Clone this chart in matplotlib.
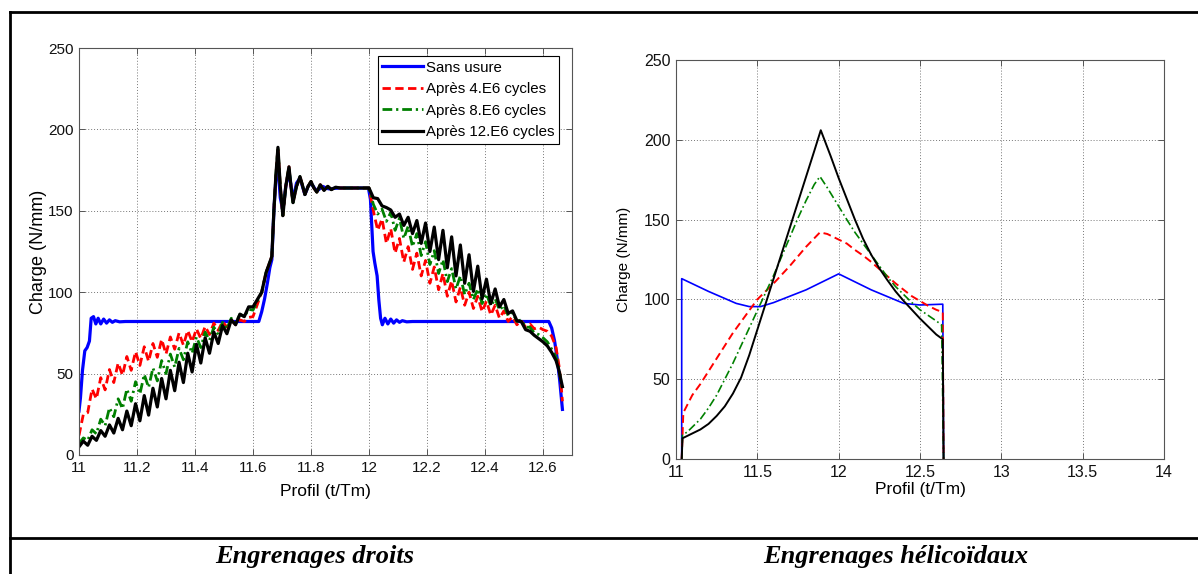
import matplotlib
matplotlib.use("Agg")
import matplotlib.pyplot as plt
from matplotlib.lines import Line2D

W, H = 1198, 574
plt.rcParams["font.family"] = ["Liberation Sans", "DejaVu Sans"]

# ---------------- spur gears (left) ----------------
L_GRID = [11.000, 11.015, 11.030, 11.045, 11.060, 11.075, 11.090, 11.105, 11.120, 11.135,
          11.150, 11.165, 11.180, 11.195, 11.210, 11.225, 11.240, 11.255, 11.270, 11.285,
          11.300, 11.315, 11.330, 11.345, 11.360, 11.375, 11.390, 11.405, 11.420, 11.435,
          11.450, 11.465, 11.480, 11.495, 11.510, 11.525, 11.540, 11.555, 11.570, 11.585, 11.600]
PEAK_X = [11.630, 11.645, 11.655, 11.665, 11.672, 11.679, 11.686, 11.694, 11.703, 11.713,
          11.724, 11.731, 11.738, 11.750, 11.762, 11.770, 11.779, 11.790, 11.800, 11.810,
          11.820, 11.832, 11.845, 11.858, 11.870, 11.885, 11.900, 11.950, 11.995]
PEAK_Y = [100, 112, 117, 122, 150, 172, 189, 165, 147, 165,
          177, 165, 155, 165, 171, 166, 160, 165, 168, 164,
          161.5, 166, 162.5, 165, 163, 164.5, 164, 164, 164]
R_GRID = [12.000, 12.015, 12.030, 12.045, 12.060, 12.075, 12.090, 12.105, 12.120, 12.135,
          12.150, 12.165, 12.180, 12.195, 12.210, 12.225, 12.240, 12.255, 12.270, 12.285,
          12.300, 12.315, 12.330, 12.345, 12.360, 12.375, 12.390, 12.405, 12.420, 12.435,
          12.450, 12.465, 12.480, 12.495, 12.510, 12.525, 12.540, 12.555, 12.570, 12.585,
          12.600, 12.615]
END_X = [12.630, 12.645, 12.655, 12.662, 12.667]

red_L = [12, 25, 26, 40.5, 34.5, 47.5, 40, 52.5, 44.5, 56.5,
         49, 60.5, 52, 63.5, 55, 66.5, 57.5, 68.5, 60, 71,
         62, 72.5, 65, 75, 67.5, 76.5, 69.5, 77.5, 71.5, 79,
         74, 81, 76.5, 82, 78.5, 83, 80, 83, 82, 84.5, 85]
red_R = [164, 150, 138, 145, 130, 139, 124, 133, 118.5, 128,
         114, 124, 110, 119.5, 105.5, 115.5, 101.5, 111.5, 97.5, 107,
         94, 103, 92, 100, 90, 97.5, 88, 94.5, 86, 92,
         84, 88.5, 82, 85, 80, 82.5, 78.5, 80.5, 77.5, 78.5,
         77, 76]
red_E = [73, 66, 55, 44, 33]

green_L = [7, 10.5, 9, 15.5, 13, 22, 18, 29, 23.5, 34.5,
           28.5, 40.5, 33, 45, 37.5, 49.5, 41.5, 53.5, 45.5, 58,
           50, 62, 54, 65.5, 58.5, 69.5, 62.5, 72.5, 66, 75.5,
           70.5, 78.5, 74, 81.5, 77.5, 84, 81, 86.5, 85, 89.5, 89]
green_R = [164, 154, 148, 151, 143.5, 149, 138, 145.5, 133, 140.5,
           128, 136, 122.5, 131, 117, 125.5, 111.5, 120, 106.5, 114.5,
           102, 110, 98.5, 105.5, 95.5, 102, 93, 99, 91.5, 96,
           89, 92, 85.5, 87.5, 82, 83, 78.5, 78.5, 75, 74,
           72, 69.5]
green_E = [65, 60, 53, 45, 40]

black_L = [5, 8.5, 6, 11.5, 9, 15, 11.5, 18.5, 13.5, 22.5,
           15.5, 27, 18, 31.5, 21, 36.5, 24.5, 41, 29.5, 47,
           34.5, 52, 39.5, 57, 44.5, 62.5, 51, 68, 56.5, 72,
           62.5, 75.5, 68.5, 79.5, 74.5, 83, 80, 86.5, 85, 91, 91]
black_R = [164, 158, 157.5, 153, 152, 150.5, 146, 148, 141, 146,
           136, 144, 130, 142.5, 125, 140, 120, 138, 115, 134,
           110, 129, 105.5, 123, 100.5, 116, 96, 108, 93, 102,
           91, 95.5, 87, 88.5, 82.5, 82, 77, 76, 73.5, 71.5,
           69.5, 67]
black_E = [63, 58, 52, 46, 42]

blue_X = [11.000, 11.005, 11.012, 11.020, 11.028, 11.036, 11.042, 11.050, 11.058, 11.066,
          11.075, 11.085, 11.095, 11.105, 11.115, 11.125, 11.140, 11.160, 11.620, 11.630,
          11.640, 11.650, 11.658, 11.665, 11.672, 11.679, 11.686, 11.694, 11.703, 11.713,
          11.724, 11.738, 11.750, 11.762, 11.779, 11.790, 11.800, 11.820, 11.840, 11.860,
          11.900, 11.998, 12.005, 12.014, 12.020, 12.028, 12.034, 12.040, 12.046, 12.055,
          12.065, 12.075, 12.085, 12.095, 12.105, 12.115, 12.130, 12.150, 12.620, 12.630,
          12.640, 12.650, 12.658, 12.667]
blue_Y = [27, 35, 52, 64, 66, 70, 84, 85, 80.5, 84,
          80.5, 83.5, 81, 83, 81.5, 82.5, 81.8, 82, 82, 88,
          96, 106, 115, 120, 150, 170, 178, 158, 150, 165,
          174, 157, 167, 170, 160, 165, 167, 162, 165, 163.5,
          164, 164, 157, 125, 118, 110, 95, 84, 80, 84,
          80.5, 83.5, 81, 83, 81.5, 82.5, 81.8, 82, 82, 78,
          70, 58, 45, 28]

# ---------------- helical gears (right) ----------------
hb_X = [11.035, 11.035, 11.2, 11.37, 11.45, 11.52, 11.6, 11.8, 12.0, 12.2, 12.4, 12.5, 12.64, 12.645]
hb_Y = [0, 113, 105, 97.5, 95.5, 95.5, 98, 106, 116, 106, 97.5, 96.5, 97, 0]
hr_X = [11.035, 11.045, 11.07, 11.1, 11.15, 11.2, 11.25, 11.3, 11.35, 11.4,
        11.45, 11.5, 11.6, 11.7, 11.8, 11.885, 11.93, 11.99, 12.05, 12.1,
        12.15, 12.2, 12.25, 12.3, 12.35, 12.4, 12.45, 12.5, 12.55, 12.6,
        12.64, 12.645]
hr_Y = [0, 29, 34, 40, 47, 55, 63, 71, 79, 86,
        93, 100, 110, 121, 133, 142, 141, 138, 135, 131,
        127.5, 123.5, 119, 114.5, 110, 106, 102, 99, 96, 93.5,
        92, 0]
hg_X = [11.035, 11.04, 11.07, 11.1, 11.15, 11.2, 11.25, 11.3, 11.35, 11.4,
        11.45, 11.5, 11.55, 11.6, 11.65, 11.7, 11.75, 11.8, 11.85, 11.885,
        11.93, 11.99, 12.05, 12.1, 12.15, 12.2, 12.25, 12.3, 12.35, 12.4,
        12.45, 12.5, 12.55, 12.6, 12.633, 12.645]
hg_Y = [0, 15, 17, 20, 25, 32, 40, 50, 60, 71,
        82, 93, 104, 115, 127, 139, 151, 162, 172, 177,
        170, 160, 150, 142, 135, 128, 121, 114, 108, 103,
        98, 93.5, 90, 86.5, 84, 0]
hk_X = [11.035, 11.04, 11.07, 11.1, 11.15, 11.2, 11.25, 11.3, 11.35, 11.4,
        11.45, 11.5, 11.55, 11.6, 11.65, 11.7, 11.75, 11.8, 11.85, 11.89,
        11.95, 12.0, 12.05, 12.1, 12.15, 12.2, 12.25, 12.3, 12.35, 12.4,
        12.45, 12.5, 12.55, 12.6, 12.64, 12.645]
hk_Y = [0, 13, 14.5, 16, 18.5, 22, 27, 33, 41, 51,
        65, 81, 97, 113, 129, 145, 161, 177, 193, 206,
        190, 176, 163, 150, 138, 128, 119.5, 112, 105, 99,
        93.5, 88, 83, 78, 75, 0]

LABELS = ["Sans usure", "Après 4.E6 cycles", "Après 8.E6 cycles", "Après 12.E6 cycles"]
BLUE, RED, GREEN, BLACK = "#0000ff", "#ff0000", "#008000", "#000000"


def px(x0, y0, x1, y1):
    return [x0 / W, 1 - y1 / H, (x1 - x0) / W, (y1 - y0) / H]


def matlab_style(ax, fs):
    ax.grid(True, linestyle=(0, (1, 2)), color="#777777", linewidth=0.7)
    ax.set_axisbelow(True)
    ax.tick_params(direction="in", top=True, right=True, length=4, width=0.7,
                   color="#555555", labelsize=fs, labelcolor="#111111", pad=4)
    for s in ax.spines.values():
        s.set_color("#555555")
        s.set_linewidth(0.8)


fig = plt.figure(figsize=(W / 100, H / 100), dpi=100)

axL = fig.add_axes(px(79, 48, 572, 455))
worn = lambda lo, hi, e: lo + PEAK_Y + hi + e
xs = L_GRID + PEAK_X + R_GRID + END_X
axL.plot(blue_X, blue_Y, color=BLUE, lw=2.3, label=LABELS[0])
axL.plot(xs, worn(red_L, red_R, red_E), color=RED, lw=2.0, ls=(0, (3, 1.6)), label=LABELS[1])
axL.plot(xs, worn(green_L, green_R, green_E), color=GREEN, lw=2.0, ls=(0, (3.5, 1.4, 0.8, 1.4)), label=LABELS[2])
axL.plot(xs, worn(black_L, black_R, black_E), color=BLACK, lw=2.3, label=LABELS[3])
axL.set_xlim(11, 12.7)
axL.set_ylim(0, 250)
axL.set_xticks([11, 11.2, 11.4, 11.6, 11.8, 12, 12.2, 12.4, 12.6])
axL.set_xticklabels(["11", "11.2", "11.4", "11.6", "11.8", "12", "12.2", "12.4", "12.6"])
axL.set_yticks([0, 50, 100, 150, 200, 250])
matlab_style(axL, 11)
axL.set_xlabel("Profil (t/Tm)", fontsize=12.5, labelpad=7)
axL.set_ylabel("Charge (N/mm)", fontsize=13, labelpad=0.5)
leg = axL.legend(loc="upper right", bbox_to_anchor=(0.9736, 0.980), fontsize=10.8,
                 fancybox=False, edgecolor="black", framealpha=1, handlelength=2.7,
                 handletextpad=0.2, borderpad=0.3, labelspacing=0.5, borderaxespad=0)
leg.get_frame().set_linewidth(0.8)

axR = fig.add_axes(px(676, 60, 1164, 459))
axR.plot(hb_X, hb_Y, color=BLUE, lw=1.2)
axR.plot(hr_X, hr_Y, color=RED, lw=1.4, ls=(0, (4, 2.2)))
axR.plot(hg_X, hg_Y, color=GREEN, lw=1.2, ls=(0, (5, 1.8, 1, 1.8)))
axR.plot(hk_X, hk_Y, color=BLACK, lw=1.4)
axR.set_xlim(11, 14)
axR.set_ylim(0, 250)
axR.set_xticks([11, 11.5, 12, 12.5, 13, 13.5, 14])
axR.set_xticklabels(["11", "11.5", "12", "12.5", "13", "13.5", "14"])
axR.set_yticks([0, 50, 100, 150, 200, 250])
matlab_style(axR, 11.5)
axR.set_xlabel("Profil (t/Tm)", fontsize=12.5, labelpad=2)
axR.set_ylabel("Charge (N/mm)", fontsize=11, labelpad=9)

# table frame around the two panels
def hline(y, x0=10, x1=1198):
    fig.add_artist(Line2D([x0 / W, x1 / W], [1 - y / H, 1 - y / H], color="black", lw=2))

def vline(x, y0=12, y1=574):
    fig.add_artist(Line2D([x / W, x / W], [1 - y0 / H, 1 - y1 / H], color="black", lw=2))

hline(12)
hline(538)
vline(10)

cap = dict(fontsize=19, fontweight="bold", fontstyle="italic", family=["Liberation Serif"],
           ha="center", va="center")
fig.text(315 / W, 1 - 557 / H, "Engrenages droits", **cap)
fig.text(896 / W, 1 - 557 / H, "Engrenages hélicoïdaux", **cap)

fig.savefig("out.png", dpi=100)
